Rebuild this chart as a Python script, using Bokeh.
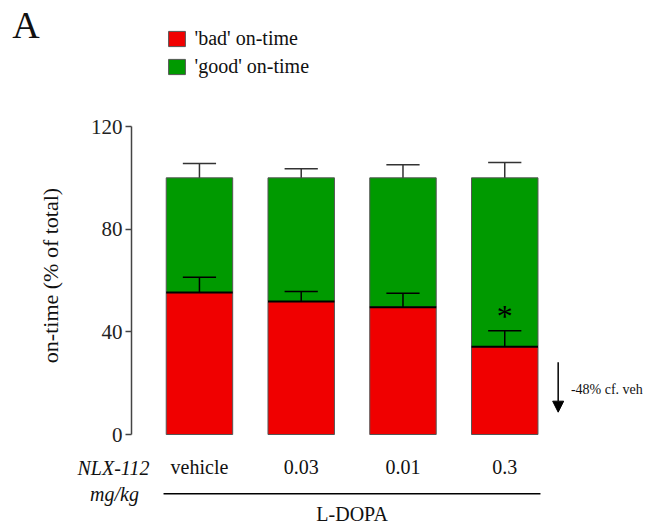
from bokeh.plotting import figure
from bokeh.models import (Range1d, Label, Arrow, NormalHead, Legend, LegendItem,
                          ColumnDataSource, FixedTicker)
from bokeh.embed import file_html
from bokeh.resources import INLINE
from bokeh.core.properties import value

# ---- data ----
doses = ["vehicle", "0.03", "0.01", "0.3"]
bad_mean = [55.3, 51.8, 49.6, 34.2]     # 'bad' on-time (% of total)
bad_sem = [6.0, 3.9, 5.4, 6.2]
total_mean = [100, 100, 100, 100]       # bad + good
total_sem = [5.6, 3.5, 5.1, 6.0]
y_ticks = [0, 40, 80, 120]
change_note = "-48% cf. veh"

SERIF = "Liberation Serif"
RED = "#f00000"
GREEN = "#009a00"

xs = list(range(len(doses)))
BW = 0.653
CAP = BW / 4

src = ColumnDataSource(dict(
    x=xs, bad=bad_mean, total=total_mean,
    x0=[x - BW / 2 for x in xs], x1=[x + BW / 2 for x in xs],
    c0=[x - CAP for x in xs], c1=[x + CAP for x in xs],
    bad_hi=[m + e for m, e in zip(bad_mean, bad_sem)],
    tot_hi=[m + e for m, e in zip(total_mean, total_sem)],
    label=doses,
))

p = figure(width=657, height=525, output_backend="svg", toolbar_location=None,
           x_range=Range1d(-1.955, 4.501), y_range=Range1d(-35.45, 169.09),
           x_axis_location=None, min_border=0,
           min_border_left=0, min_border_right=0, min_border_top=0, min_border_bottom=0)
p.background_fill_color = "white"
p.border_fill_color = "white"
p.outline_line_color = None
p.grid.visible = False

# bars
good_r = p.vbar(x="x", width=BW, bottom="bad", top="total", source=src,
                fill_color=GREEN, line_color="#555555", line_width=1)
bad_r = p.vbar(x="x", width=BW, bottom=0, top="bad", source=src,
               fill_color=RED, line_color="#555555", line_width=1)
p.segment(x0="x0", x1="x1", y0="bad", y1="bad", source=src, line_color="black", line_width=2)

# error bars
p.segment(x0="x", x1="x", y0="total", y1="tot_hi", source=src, line_color="#333333", line_width=1.5)
p.segment(x0="c0", x1="c1", y0="tot_hi", y1="tot_hi", source=src, line_color="#333333", line_width=1.5)
p.segment(x0="x", x1="x", y0="bad", y1="bad_hi", source=src, line_color="black", line_width=1.5)
p.segment(x0="c0", x1="c1", y0="bad_hi", y1="bad_hi", source=src, line_color="black", line_width=1.5)

# y axis, drawn inside the frame
ax = p.yaxis[0]
ax.fixed_location = -0.6677
ax.bounds = (0, 120)
ax.ticker = FixedTicker(ticks=y_ticks)
ax.minor_tick_line_color = None
ax.major_tick_in = 0
ax.major_tick_out = 6
ax.axis_line_color = "#444444"
ax.axis_line_width = 1.5
ax.major_tick_line_color = "#444444"
ax.major_tick_line_width = 1.5
ax.major_label_standoff = 3
ax.major_label_text_font = SERIF
ax.major_label_text_font_size = "21px"
ax.major_label_text_color = "#222222"

# y label
p.add_layout(Label(x=-1.4636, y=61.95, text="on-time (% of total)", angle=1.5708,
                   text_align="center", text_baseline="middle",
                   text_font=SERIF, text_font_size="22px", text_color="#111111"))

# category labels
p.text(x="x", y=-12.85, text="label", source=src, text_align="center",
       text_baseline="alphabetic", text_font=value(SERIF), text_font_size="20px",
       text_color="#111111")
p.add_layout(Label(x=-0.845, y=-13.24, text="NLX-112", text_align="center",
                   text_baseline="alphabetic", text_font=SERIF, text_font_style="italic",
                   text_font_size="20px", text_color="#111111"))
p.add_layout(Label(x=-0.835, y=-23.37, text="mg/kg", text_align="center",
                   text_baseline="alphabetic", text_font=SERIF, text_font_style="italic",
                   text_font_size="20px", text_color="#111111"))
p.segment(x0=[xs[0] - 0.353], x1=[xs[-1] + 0.351], y0=[-23.1], y1=[-23.1],
          line_color="black", line_width=1.5)
p.add_layout(Label(x=(xs[0] + xs[-1]) / 2, y=-30.8, text="L-DOPA", text_align="center",
                   text_baseline="alphabetic", text_font=SERIF,
                   text_font_size="20px", text_color="#111111"))

# significance and note
p.text(x=[xs[-1]], y=[bad_mean[-1] + bad_sem[-1] + 5.8], text=["*"], text_align="center",
       text_baseline="alphabetic", text_font=value(SERIF), text_font_size="32px",
       text_color="black")
p.add_layout(Arrow(x_start=3.525, y_start=28.2, x_end=3.525, y_end=8.7,
                   line_width=1.5, line_color="black",
                   end=NormalHead(size=11, fill_color="black", line_color="black")))
p.add_layout(Label(x=3.65, y=17.4, text=change_note, text_align="left",
                   text_baseline="middle", text_font=SERIF, text_font_size="14px",
                   text_color="#111111"))

# panel letter
p.add_layout(Label(x=-1.84, y=159.7, text="A", text_align="left", text_baseline="alphabetic",
                   text_font=SERIF, text_font_size="38px", text_color="#111111"))

# legend
legend = Legend(items=[LegendItem(label="'bad' on-time", renderers=[bad_r]),
                       LegendItem(label="'good' on-time", renderers=[good_r])],
                location=(165.6, 447.2), orientation="vertical",
                glyph_width=21, glyph_height=19, label_height=19, spacing=5,
                label_standoff=8, padding=0, margin=0,
                border_line_color=None, background_fill_alpha=0,
                label_text_font=SERIF, label_text_font_size="20px",
                label_text_color="#111111")
p.add_layout(legend)

open("out.html", "w").write(file_html(p, INLINE))
